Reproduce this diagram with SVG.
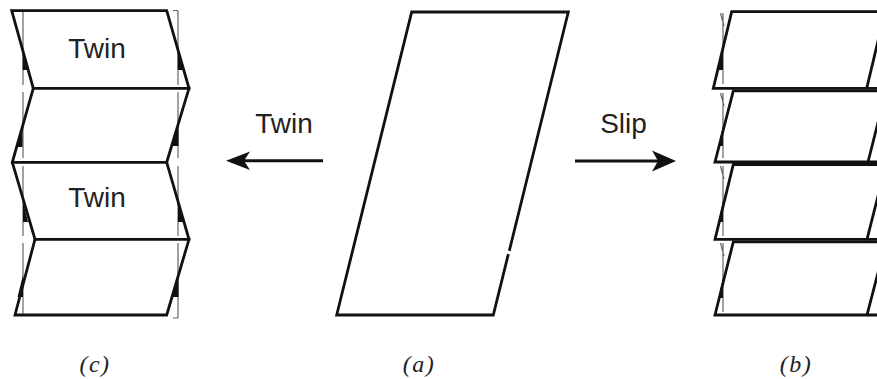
<svg xmlns="http://www.w3.org/2000/svg" width="877" height="379" viewBox="0 0 877 379">
<style>
.o{fill:none;stroke:#111;stroke-width:2.8;stroke-linejoin:miter;stroke-linecap:square}
.d{fill:none;stroke:#666;stroke-width:1.2}
.w{fill:#111;stroke:none}
.t{font-family:"Liberation Sans",Arial,sans-serif;font-size:28px;fill:#222;text-anchor:middle}
.l{font-family:"Liberation Serif","Times New Roman",serif;font-style:italic;font-size:24px;letter-spacing:1.5px;fill:#222;text-anchor:middle}
.ln{stroke:#111;stroke-width:3;fill:none}
</style>
<rect width="877" height="379" fill="#fff"/>

<g id="panel-c">
  <path class="d" d="M23 11V85M23 92V158M23 166V236M23 243V316M178 11V85M178 92V158M178 166V236M178 243V318M173 10.5H178M173 318H178"/>
  <path class="w" d="M22.7 50L22.7 70L28 70Z M177.7 49L177.7 70L183.5 70Z M22.5 125L22.5 147L16.5 147Z M178.5 124L178.5 146L172.5 146Z M23 201L23 222L28 222Z M178 200L178 222L184 222Z M23 275L23 297L17.5 297Z M178.5 276L178.5 297L172.5 297Z"/>
  <path class="o" d="M11.7 10.7H166.7L189 88.3L166.7 162.3L189 239.3L166.7 315H15L35 239.3L12.3 162.3L33.3 88.3Z"/>
  <path class="o" d="M33.3 88.3H189M12.3 162.3H166.7M35 239.3H189"/>
  <text class="t" x="97" y="58">Twin</text>
  <text class="t" x="97" y="207">Twin</text>
</g>

<g id="panel-a">
  <path class="o" d="M509.6 249.5L568.3 12H411.7L336.7 315H493.3L508 255.5"/>
</g>

<g id="panel-b">
  <path class="d" d="M723 13V84M723 93V158M723 166V236M723 243V312M720.5 13L724 26M720.5 93L724 106M720.5 166L724 179M720.5 243L724 256"/>
  <path class="w" d="M723 48L723 70L718 70Z M723 126L723 146L718.5 146Z M723 201L723 222L718.5 222Z M723 278L723 298L718.5 298Z"/>
  <path class="o" d="M885 11.7H731.7L713.3 88.3H877M866.7 88.3L885 11.7"/>
  <path class="o" d="M886 90.8H733.3L715 162H877M868 162L886 90.8"/>
  <path class="o" d="M886 164.5H733.3L715 239.3H877M867 239.3L886 164.5"/>
  <path class="o" d="M886 241.8H733.3L715 315H877M867 315L886 241.8"/>
</g>

<g id="connectors">
  <line class="ln" x1="323" y1="160.7" x2="240" y2="160.7"/>
  <path fill="#111" d="M226 160.7L250 151.5L244 160.7L250 170Z"/>
  <line class="ln" x1="575" y1="161" x2="662" y2="161"/>
  <path fill="#111" d="M676 161L652 150.5L658 161L652 171.5Z"/>
  <text class="t" x="284" y="133">Twin</text>
  <text class="t" x="623.5" y="133">Slip</text>
</g>

<g id="labels">
  <text class="l" x="95" y="372">(c)</text>
  <text class="l" x="419" y="372">(a)</text>
  <text class="l" x="796" y="372">(b)</text>
</g>
</svg>
